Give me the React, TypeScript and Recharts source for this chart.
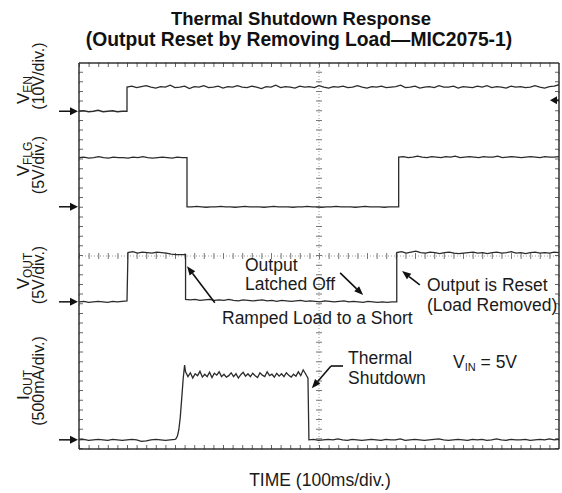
import React from 'react'
import { LineChart, Line, XAxis, YAxis, CartesianGrid, ReferenceLine } from 'recharts'

// Scope screen in divisions: x = 0..10 (100ms/div), y = 0..8 (bottom to top)
const xMajor = [0, 1, 2, 3, 4, 5, 6, 7, 8, 9, 10]
const yMajor = [0, 1, 2, 3, 4, 5, 6, 7, 8]

// ground markers (left arrows) for each trace, and the trigger marker on the right
const groundLevels = [7.0, 5.02, 3.05, 0.19]
const triggerLevel = 7.23

// each segment: [xStart, xEnd, samples]
type Seg = [number, number, number[]]

const enLow = [7.0, 7.01, 6.99, 7.0, 7.02, 6.99, 7.0, 7.01, 6.99, 7.0, 7.0]
const enHigh = [
  7.5, 7.52, 7.49, 7.51, 7.53, 7.5, 7.48, 7.51, 7.5, 7.54,
  7.49, 7.5, 7.52, 7.47, 7.51, 7.5, 7.53, 7.49, 7.5, 7.52,
  7.48, 7.51, 7.5, 7.53, 7.5, 7.49, 7.52, 7.5, 7.47, 7.51,
  7.5, 7.54, 7.49, 7.51, 7.5, 7.48, 7.52, 7.5, 7.51, 7.49,
  7.53, 7.5, 7.48, 7.51, 7.5, 7.52, 7.49, 7.5, 7.53, 7.5,
  7.48, 7.51, 7.5, 7.52, 7.49, 7.5, 7.51, 7.54, 7.49, 7.5,
  7.52, 7.48, 7.5, 7.51, 7.49, 7.53, 7.5, 7.5, 7.52, 7.48,
  7.51, 7.5, 7.49, 7.52, 7.5, 7.53, 7.49, 7.51, 7.5, 7.48,
  7.52, 7.5, 7.51, 7.49, 7.5, 7.53, 7.5, 7.48, 7.51, 7.52, 7.55,
]

const flgHighA = [6.04, 6.05, 6.03, 6.04, 6.06, 6.04, 6.03, 6.05, 6.04, 6.04, 6.03, 6.05, 6.04, 6.06, 6.04, 6.03, 6.04, 6.05, 6.04, 6.03, 6.05, 6.04, 6.04]
const flgLow = [
  5.02, 5.02, 5.03, 5.02, 5.01, 5.02, 5.02, 5.03, 5.02, 5.02, 5.01, 5.02, 5.03, 5.02, 5.02,
  5.02, 5.01, 5.02, 5.03, 5.02, 5.02, 5.02, 5.01, 5.02, 5.02, 5.03, 5.02, 5.02, 5.01, 5.02,
  5.02, 5.03, 5.02, 5.02, 5.02, 5.01, 5.02, 5.03, 5.02, 5.02, 5.02, 5.01, 5.02, 5.02, 5.02,
]
const flgHighB = [
  6.05, 6.06, 6.04, 6.05, 6.07, 6.05, 6.04, 6.06, 6.05, 6.04, 6.06, 6.05, 6.07, 6.04, 6.05, 6.06, 6.05, 6.04,
  6.06, 6.05, 6.05, 6.07, 6.04, 6.05, 6.06, 6.05, 6.04, 6.05, 6.06, 6.05, 6.04, 6.06, 6.05, 6.05, 6.06,
]

const voutLowA = [3.05, 3.06, 3.04, 3.05, 3.06, 3.05, 3.04, 3.06, 3.05, 3.06, 3.07]
const voutHighA = [4.07, 4.09, 4.06, 4.08, 4.07, 4.06, 4.08, 4.07, 4.06, 4.04, 4.03, 4.03, 4.03]
const voutLowB = [
  3.1, 3.09, 3.1, 3.08, 3.09, 3.1, 3.08, 3.09, 3.08, 3.1, 3.08, 3.07, 3.09, 3.08, 3.07,
  3.08, 3.09, 3.07, 3.08, 3.06, 3.08, 3.07, 3.06, 3.07, 3.08, 3.06, 3.07, 3.06, 3.05, 3.07,
  3.06, 3.05, 3.06, 3.07, 3.05, 3.06, 3.05, 3.04, 3.06, 3.05, 3.04, 3.05, 3.04, 3.05, 3.05,
]
const voutHighB = [
  4.07, 4.09, 4.06, 4.08, 4.1, 4.07, 4.06, 4.08, 4.07, 4.05, 4.07, 4.08, 4.06, 4.05, 4.06, 4.07, 4.08, 4.06,
  4.07, 4.05, 4.07, 4.08, 4.06, 4.07, 4.09, 4.06, 4.07, 4.05, 4.07, 4.08, 4.06, 4.07, 4.06, 4.08, 4.07,
]

const ioutLowA = [0.19, 0.2, 0.18, 0.19, 0.2, 0.19, 0.18, 0.2, 0.19, 0.18, 0.19, 0.2, 0.19, 0.16, 0.17, 0.19, 0.2, 0.19, 0.18, 0.19, 0.2]
const ioutRamp = [0.21, 0.27, 0.4, 0.66, 1.05, 1.45, 1.74]
const ioutHigh = [
  1.6, 1.5, 1.58, 1.47, 1.56, 1.52, 1.61, 1.49, 1.55, 1.5,
  1.59, 1.48, 1.57, 1.53, 1.6, 1.5, 1.55, 1.49, 1.52, 1.58,
  1.5, 1.56, 1.47, 1.54, 1.59, 1.51, 1.56, 1.5, 1.57, 1.52,
  1.48, 1.58, 1.53, 1.5, 1.6, 1.52, 1.55, 1.49, 1.57, 1.51,
  1.56, 1.5, 1.58, 1.53, 1.49, 1.55, 1.51, 1.6, 1.52, 1.64, 1.56, 1.47,
]
const ioutLowB = [
  0.19, 0.2, 0.18, 0.19, 0.2, 0.19, 0.21, 0.19, 0.18, 0.2, 0.19, 0.18, 0.19, 0.2, 0.19, 0.18, 0.2, 0.19,
  0.19, 0.21, 0.18, 0.19, 0.2, 0.19, 0.18, 0.19, 0.2, 0.21, 0.19, 0.18, 0.19, 0.2, 0.19, 0.18, 0.2,
  0.19, 0.2, 0.18, 0.19, 0.21, 0.19, 0.18, 0.2, 0.19, 0.19, 0.2, 0.18, 0.19, 0.2, 0.19, 0.21, 0.19, 0.2,
]

const enSegs: Seg[] = [[0, 1.0, enLow], [1.0, 10, enHigh]]
const flgSegs: Seg[] = [[0, 2.25, flgHighA], [2.25, 6.66, flgLow], [6.66, 10, flgHighB]]
const voutSegs: Seg[] = [[0, 1.0, voutLowA], [1.02, 2.22, voutHighA], [2.22, 6.62, voutLowB], [6.62, 10, voutHighB]]
const ioutSegs: Seg[] = [[0, 2.0, ioutLowA], [2.02, 2.2, ioutRamp], [2.22, 4.77, ioutHigh], [4.79, 10, ioutLowB]]

// annotation arrows in screen divisions: [[x1, y1], [x2, y2]], head at second point
const arrows: { seg: [number, number][]; head: boolean }[] = [
  { seg: [[5.44, 3.65], [5.92, 3.19]], head: true },
  { seg: [[2.83, 3.03], [2.25, 3.79]], head: true },
  { seg: [[7.1, 3.4], [6.73, 3.69]], head: true },
  { seg: [[5.5, 1.72], [5.25, 1.72]], head: false },
  { seg: [[5.25, 1.72], [4.85, 1.26]], head: true },
]

const FONT = '"Liberation Sans", Arial, Helvetica, sans-serif'
const TRACE = '#2b2b2b'

function trace(segs: Seg[]) {
  const out: { x: number; y: number }[] = []
  segs.forEach(([x0, x1, ys]) => {
    const n = ys.length
    ys.forEach((y, i) => out.push({ x: x0 + ((x1 - x0) * i) / (n - 1), y }))
  })
  return out
}

function ArrowShape(props: any) {
  const { x1, y1, x2, y2, head } = props
  const dx = x2 - x1
  const dy = y2 - y1
  const len = Math.sqrt(dx * dx + dy * dy) || 1
  const ux = dx / len
  const uy = dy / len
  const hl = 9
  const hw = 3.5
  const bx = x2 - ux * hl
  const by = y2 - uy * hl
  return (
    <g>
      <line x1={x1} y1={y1} x2={head ? bx : x2} y2={head ? by : y2} stroke="#111" strokeWidth={1.6} />
      {head && (
        <polygon
          points={`${x2},${y2} ${bx - uy * hw},${by + ux * hw} ${bx + uy * hw},${by - ux * hw}`}
          fill="#111"
        />
      )}
    </g>
  )
}

function GroundArrow(props: any) {
  const left = Math.min(props.x1, props.x2)
  const y = props.y1
  return (
    <g>
      <line x1={left - 20} y1={y} x2={left - 7} y2={y} stroke="#111" strokeWidth={1.5} />
      <polygon points={`${left - 1},${y} ${left - 9},${y - 4} ${left - 9},${y + 4}`} fill="#111" />
    </g>
  )
}

function TriggerArrow(props: any) {
  const right = Math.max(props.x1, props.x2)
  const y = props.y1
  return (
    <g>
      <line x1={right - 3} y1={y} x2={right} y2={y} stroke="#111" strokeWidth={1.5} />
      <polygon points={`${right - 9},${y} ${right - 2},${y - 4} ${right - 2},${y + 4}`} fill="#111" />
    </g>
  )
}

function RotLabel({ x, y, main, sub, size = 17 }: { x: number; y: number; main: string; sub?: string; size?: number }) {
  return (
    <g transform={`translate(${x},${y}) rotate(-90)`}>
      <text textAnchor="middle" fontSize={size} fill="#1a1a1a">
        {main}
        {sub && <tspan fontSize={12} dy={3}>{sub}</tspan>}
      </text>
    </g>
  )
}

export default function App() {
  const en = trace(enSegs)
  const flg = trace(flgSegs)
  const vout = trace(voutSegs)
  const iout = trace(ioutSegs)

  return (
    <div style={{ position: 'absolute', left: 0, top: 0, width: 562, height: 493, background: '#fff', fontFamily: FONT }}>
      <LineChart width={562} height={493} margin={{ top: 63, right: 3, bottom: 44, left: 79 }}>
        <CartesianGrid horizontal={false} stroke="#7a7a7a" strokeDasharray="1.3 8.35" />
        <CartesianGrid vertical={false} stroke="#7a7a7a" strokeDasharray="1.3 8.3" />
        <XAxis dataKey="x" type="number" domain={[0, 10]} ticks={xMajor} allowDataOverflow height={0} tick={false} tickLine={false} axisLine={false} />
        <YAxis type="number" domain={[0, 8]} ticks={yMajor} allowDataOverflow width={0} tick={false} tickLine={false} axisLine={false} />

        {/* centre cross with its own graduation */}
        <ReferenceLine x={5} stroke="#999" strokeDasharray="1 2" />
        <ReferenceLine y={4} stroke="#999" strokeDasharray="1 2" />
        <ReferenceLine x={5} stroke="#777" strokeWidth={6} strokeDasharray="1 8.65" />
        <ReferenceLine y={4} stroke="#777" strokeWidth={6} strokeDasharray="1 8.6" />

        {/* frame: inward graduations (outer half clipped) and the border itself */}
        <ReferenceLine x={0} ifOverflow="hidden" stroke="#666" strokeWidth={8} strokeDasharray="1 8.65" />
        <ReferenceLine x={10} ifOverflow="hidden" stroke="#666" strokeWidth={8} strokeDasharray="1 8.65" />
        <ReferenceLine y={0} ifOverflow="hidden" stroke="#666" strokeWidth={8} strokeDasharray="1 8.6" />
        <ReferenceLine y={8} ifOverflow="hidden" stroke="#666" strokeWidth={8} strokeDasharray="1 8.6" />
        <ReferenceLine x={0} stroke="#333" strokeWidth={1.5} />
        <ReferenceLine x={10} stroke="#333" strokeWidth={1.5} />
        <ReferenceLine y={0} stroke="#333" strokeWidth={1.5} />
        <ReferenceLine y={8} stroke="#333" strokeWidth={1.5} />

        {groundLevels.map((lv) => (
          <ReferenceLine key={`g-${lv}`} y={lv} shape={<GroundArrow />} />
        ))}
        <ReferenceLine y={triggerLevel} shape={<TriggerArrow />} />

        <Line data={en} dataKey="y" type="linear" stroke={TRACE} strokeWidth={1.3} dot={false} isAnimationActive={false} />
        <Line data={flg} dataKey="y" type="linear" stroke={TRACE} strokeWidth={1.3} dot={false} isAnimationActive={false} />
        <Line data={vout} dataKey="y" type="linear" stroke={TRACE} strokeWidth={1.3} dot={false} isAnimationActive={false} />
        <Line data={iout} dataKey="y" type="linear" stroke={TRACE} strokeWidth={1.3} dot={false} isAnimationActive={false} />

        {arrows.map((a, i) => (
          <ReferenceLine
            key={`a-${i}`}
            segment={a.seg.map(([x, y]) => ({ x, y }))}
            shape={(p: any) => <ArrowShape {...p} head={a.head} />}
          />
        ))}
      </LineChart>

      <svg width={562} height={493} style={{ position: 'absolute', left: 0, top: 0, pointerEvents: 'none' }} fontFamily={FONT}>
        <text x={301} y={25} textAnchor="middle" fontSize={18.5} fontWeight="bold" fill="#111">Thermal Shutdown Response</text>
        <text x={299} y={46} textAnchor="middle" fontSize={19.3} fontWeight="bold" fill="#111">(Output Reset by Removing Load—MIC2075-1)</text>

        <RotLabel x={29} y={90} main="V" sub="EN" />
        <RotLabel x={44} y={76} main="(10V/div.)" size={16} />
        <RotLabel x={29} y={159} main="V" sub="FLG" />
        <RotLabel x={44} y={165} main="(5V/div.)" size={16} />
        <RotLabel x={29} y={271} main="V" sub="OUT" />
        <RotLabel x={44} y={275} main="(5V/div.)" size={16} />
        <RotLabel x={29} y={385} main="I" sub="OUT" />
        <RotLabel x={44} y={381} main="(500mA/div.)" size={16} />

        <g fontSize={17.5} fill="#1a1a1a">
          <text x={245} y={271}>Output</text>
          <text x={245} y={290}>Latched Off</text>
          <text x={222} y={324}>Ramped Load to a Short</text>
          <text x={427} y={291}>Output is Reset</text>
          <text x={427} y={311}>(Load Removed)</text>
          <text x={348} y={364}>Thermal</text>
          <text x={348} y={384}>Shutdown</text>
          <text x={453} y={368}>
            V<tspan fontSize={11} dy={3}>IN</tspan>
            <tspan dy={-3}> = 5V</tspan>
          </text>
          <text x={320} y={486} textAnchor="middle">TIME (100ms/div.)</text>
        </g>
      </svg>
    </div>
  )
}
